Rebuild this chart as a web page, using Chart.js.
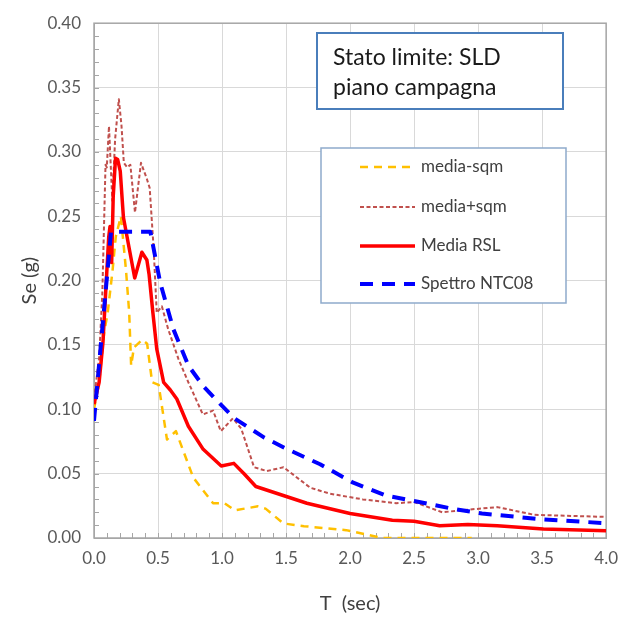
<!DOCTYPE html>
<html>
<head>
<meta charset="utf-8">
<script src="https://cdn.jsdelivr.net/npm/chart.js@4"></script>
<style>
  body { margin: 0; background: #fff; }
  #grafico { display: block; }
</style>
</head>
<body>
<canvas id="grafico" width="628" height="618"></canvas>
<script>
// periodi T (sec) e accelerazioni spettrali Se (g)
const tMenoSqm = [0, 0.04, 0.08, 0.107, 0.145, 0.17, 0.21, 0.25, 0.275, 0.29, 0.312, 0.377, 0.415, 0.454, 0.505, 0.57, 0.64, 0.775, 0.93, 1.02, 1.1, 1.28, 1.34, 1.48, 1.64, 1.97, 2.25, 2.6, 2.95];
const seMenoSqm = [0.10, 0.121, 0.160, 0.175, 0.208, 0.234, 0.250, 0.208, 0.175, 0.134, 0.148, 0.154, 0.151, 0.121, 0.119, 0.0765, 0.083, 0.047, 0.027, 0.027, 0.0215, 0.0246, 0.0228, 0.0113, 0.0092, 0.0061, 0.0, 0.0, 0.0];

const tPiuSqm = [0, 0.04, 0.065, 0.08, 0.09, 0.1, 0.117, 0.143, 0.165, 0.194, 0.215, 0.233, 0.26, 0.284, 0.32, 0.367, 0.413, 0.435, 0.467, 0.49, 0.53, 0.58, 0.66, 0.737, 0.85, 0.93, 0.99, 1.085, 1.15, 1.25, 1.35, 1.48, 1.69, 1.84, 2.1, 2.36, 2.5, 2.72, 2.92, 3.15, 3.44, 4.0];
const sePiuSqm = [0.108, 0.14, 0.19, 0.25, 0.29, 0.288, 0.320, 0.262, 0.31, 0.341, 0.32, 0.2915, 0.288, 0.290, 0.253, 0.2915, 0.279, 0.272, 0.223, 0.175, 0.180, 0.162, 0.139, 0.121, 0.096, 0.099, 0.083, 0.093, 0.085, 0.055, 0.052, 0.055, 0.039, 0.0345, 0.030, 0.027, 0.028, 0.020, 0.022, 0.024, 0.018, 0.0164];

const tMedia = [0, 0.04, 0.07, 0.094, 0.115, 0.125, 0.138, 0.15, 0.168, 0.185, 0.205, 0.23, 0.318, 0.374, 0.413, 0.43, 0.46, 0.49, 0.544, 0.596, 0.647, 0.737, 0.853, 0.994, 1.092, 1.174, 1.264, 1.663, 2.0, 2.33, 2.5, 2.7, 2.92, 3.15, 3.51, 4.0];
const seMedia = [0.104, 0.121, 0.152, 0.196, 0.234, 0.242, 0.214, 0.265, 0.295, 0.294, 0.285, 0.249, 0.202, 0.222, 0.216, 0.205, 0.175, 0.147, 0.121, 0.115, 0.108, 0.0868, 0.0689, 0.056, 0.058, 0.0497, 0.040, 0.027, 0.019, 0.0138, 0.013, 0.0095, 0.0105, 0.0095, 0.007, 0.0056];

const tNtc = [0, 0.133, 0.44, 0.518, 0.621, 0.737, 0.853, 0.968, 1.097, 1.33, 1.51, 1.766, 2.02, 2.28, 2.54, 2.795, 3.03, 3.5, 4.0];
const seNtc = [0.091, 0.238, 0.238, 0.198, 0.162, 0.134, 0.118, 0.106, 0.093, 0.078, 0.069, 0.0573, 0.0432, 0.033, 0.028, 0.0228, 0.019, 0.0145, 0.0115];

const xTicks = [0.0, 0.5, 1.0, 1.5, 2.0, 2.5, 3.0, 3.5, 4.0];
const yTicks = [0.00, 0.05, 0.10, 0.15, 0.20, 0.25, 0.30, 0.35, 0.40];

const font = 'Lato, "Liberation Sans", sans-serif';

function punti(t, se) {
    return t.map((v, i) => ({ x: v, y: se[i] }));
}

// cornice del grafico e tacche secondarie sugli assi
const cornice = {
    id: 'cornice',
    beforeDatasetsDraw(chart) {
        const ctx = chart.ctx;
        const a = chart.chartArea;
        const xs = chart.scales.x, ys = chart.scales.y;
        ctx.save();
        ctx.strokeStyle = '#a6a6a6';
        ctx.lineWidth = 1;
        ctx.beginPath();
        for (let i = 0; i <= 40; i++) {
            const px = Math.round(xs.getPixelForValue(i / 10)) + 0.5;
            ctx.moveTo(px, a.bottom);
            ctx.lineTo(px, a.bottom - 5);
        }
        for (let i = 0; i <= 40; i++) {
            const py = Math.round(ys.getPixelForValue(i / 100)) + 0.5;
            ctx.moveTo(a.left, py);
            ctx.lineTo(a.left + 5, py);
        }
        ctx.stroke();
        ctx.lineWidth = 1.5;
        ctx.strokeRect(a.left, a.top, a.right - a.left, a.bottom - a.top);
        ctx.restore();
    }
};

// riquadro con lo stato limite e legenda
const riquadri = {
    id: 'riquadri',
    afterDraw(chart) {
        const ctx = chart.ctx;
        ctx.save();
        ctx.fillStyle = '#fff';
        ctx.fillRect(317, 33, 246, 76);
        ctx.strokeStyle = '#4a7ebb';
        ctx.lineWidth = 2;
        ctx.strokeRect(317, 33, 246, 76);
        ctx.fillStyle = '#1a1a1a';
        ctx.font = '23px ' + font;
        ctx.textBaseline = 'middle';
        ctx.fillText('Stato limite: SLD', 333, 58);
        ctx.fillText('piano campagna', 333, 88);

        ctx.fillStyle = '#fff';
        ctx.fillRect(321, 148, 245, 155);
        ctx.strokeStyle = '#8eaacb';
        ctx.lineWidth = 1.5;
        ctx.strokeRect(321, 148, 245, 155);

        const righe = [167, 207, 246, 284];
        ctx.font = '17px ' + font;
        chart.data.datasets.forEach((ds, i) => {
            const y = righe[i];
            ctx.beginPath();
            ctx.setLineDash(ds.borderDash || []);
            ctx.strokeStyle = ds.borderColor;
            ctx.lineWidth = ds.borderWidth;
            ctx.moveTo(360, y);
            ctx.lineTo(415, y);
            ctx.stroke();
            ctx.setLineDash([]);
            ctx.fillStyle = '#404040';
            ctx.fillText(ds.label, 421, y);
        });
        ctx.restore();
    }
};

const ctx = document.getElementById('grafico').getContext('2d');
const chart = new Chart(ctx, {
    type: 'line',
    data: {
        datasets: [{
            label: 'media-sqm',
            data: punti(tMenoSqm, seMenoSqm),
            borderColor: '#ffc000',
            borderWidth: 2.5,
            borderDash: [8, 6],
            order: 4
        }, {
            label: 'media+sqm',
            data: punti(tPiuSqm, sePiuSqm),
            borderColor: '#c0504d',
            borderWidth: 2,
            borderDash: [4, 2.5],
            order: 3
        }, {
            label: 'Media RSL',
            data: punti(tMedia, seMedia),
            borderColor: '#ff0000',
            borderWidth: 3.5,
            order: 2
        }, {
            label: 'Spettro NTC08',
            data: punti(tNtc, seNtc),
            borderColor: '#0000ff',
            borderWidth: 4,
            borderDash: [13, 9],
            order: 1
        }]
    },
    options: {
        responsive: false,
        animation: false,
        devicePixelRatio: 1,
        layout: { padding: { top: 17, right: 15, left: 0, bottom: 0 } },
        elements: {
            point: { radius: 0 },
            line: { tension: 0, borderCapStyle: 'butt', borderJoinStyle: 'round' }
        },
        plugins: {
            legend: { display: false },
            tooltip: { enabled: false }
        },
        scales: {
            x: {
                type: 'linear',
                min: 0,
                max: 4,
                afterBuildTicks: s => { s.ticks = xTicks.map(v => ({ value: v })); },
                afterFit: s => { s.height = 80; },
                ticks: {
                    callback: v => v.toFixed(1),
                    font: { family: font, size: 17 },
                    color: '#595959',
                    padding: 10
                },
                grid: { color: '#d9d9d9', drawTicks: false },
                border: { color: '#a6a6a6' },
                title: {
                    display: true,
                    text: 'T  (sec)',
                    font: { family: font, size: 20 },
                    color: '#404040',
                    padding: { top: 0, bottom: 2 }
                }
            },
            y: {
                min: 0,
                max: 0.4,
                afterBuildTicks: s => { s.ticks = yTicks.map(v => ({ value: v })); },
                afterFit: s => { s.width = 94; },
                ticks: {
                    callback: v => v.toFixed(2),
                    font: { family: font, size: 17 },
                    color: '#595959',
                    padding: 13
                },
                grid: { color: '#d9d9d9', drawTicks: false },
                border: { color: '#a6a6a6' },
                title: {
                    display: true,
                    text: 'Se (g)',
                    font: { family: font, size: 20 },
                    color: '#404040',
                    padding: { top: 18, bottom: 0 }
                }
            }
        }
    },
    plugins: [cornice, riquadri]
});
</script>
</body>
</html>
